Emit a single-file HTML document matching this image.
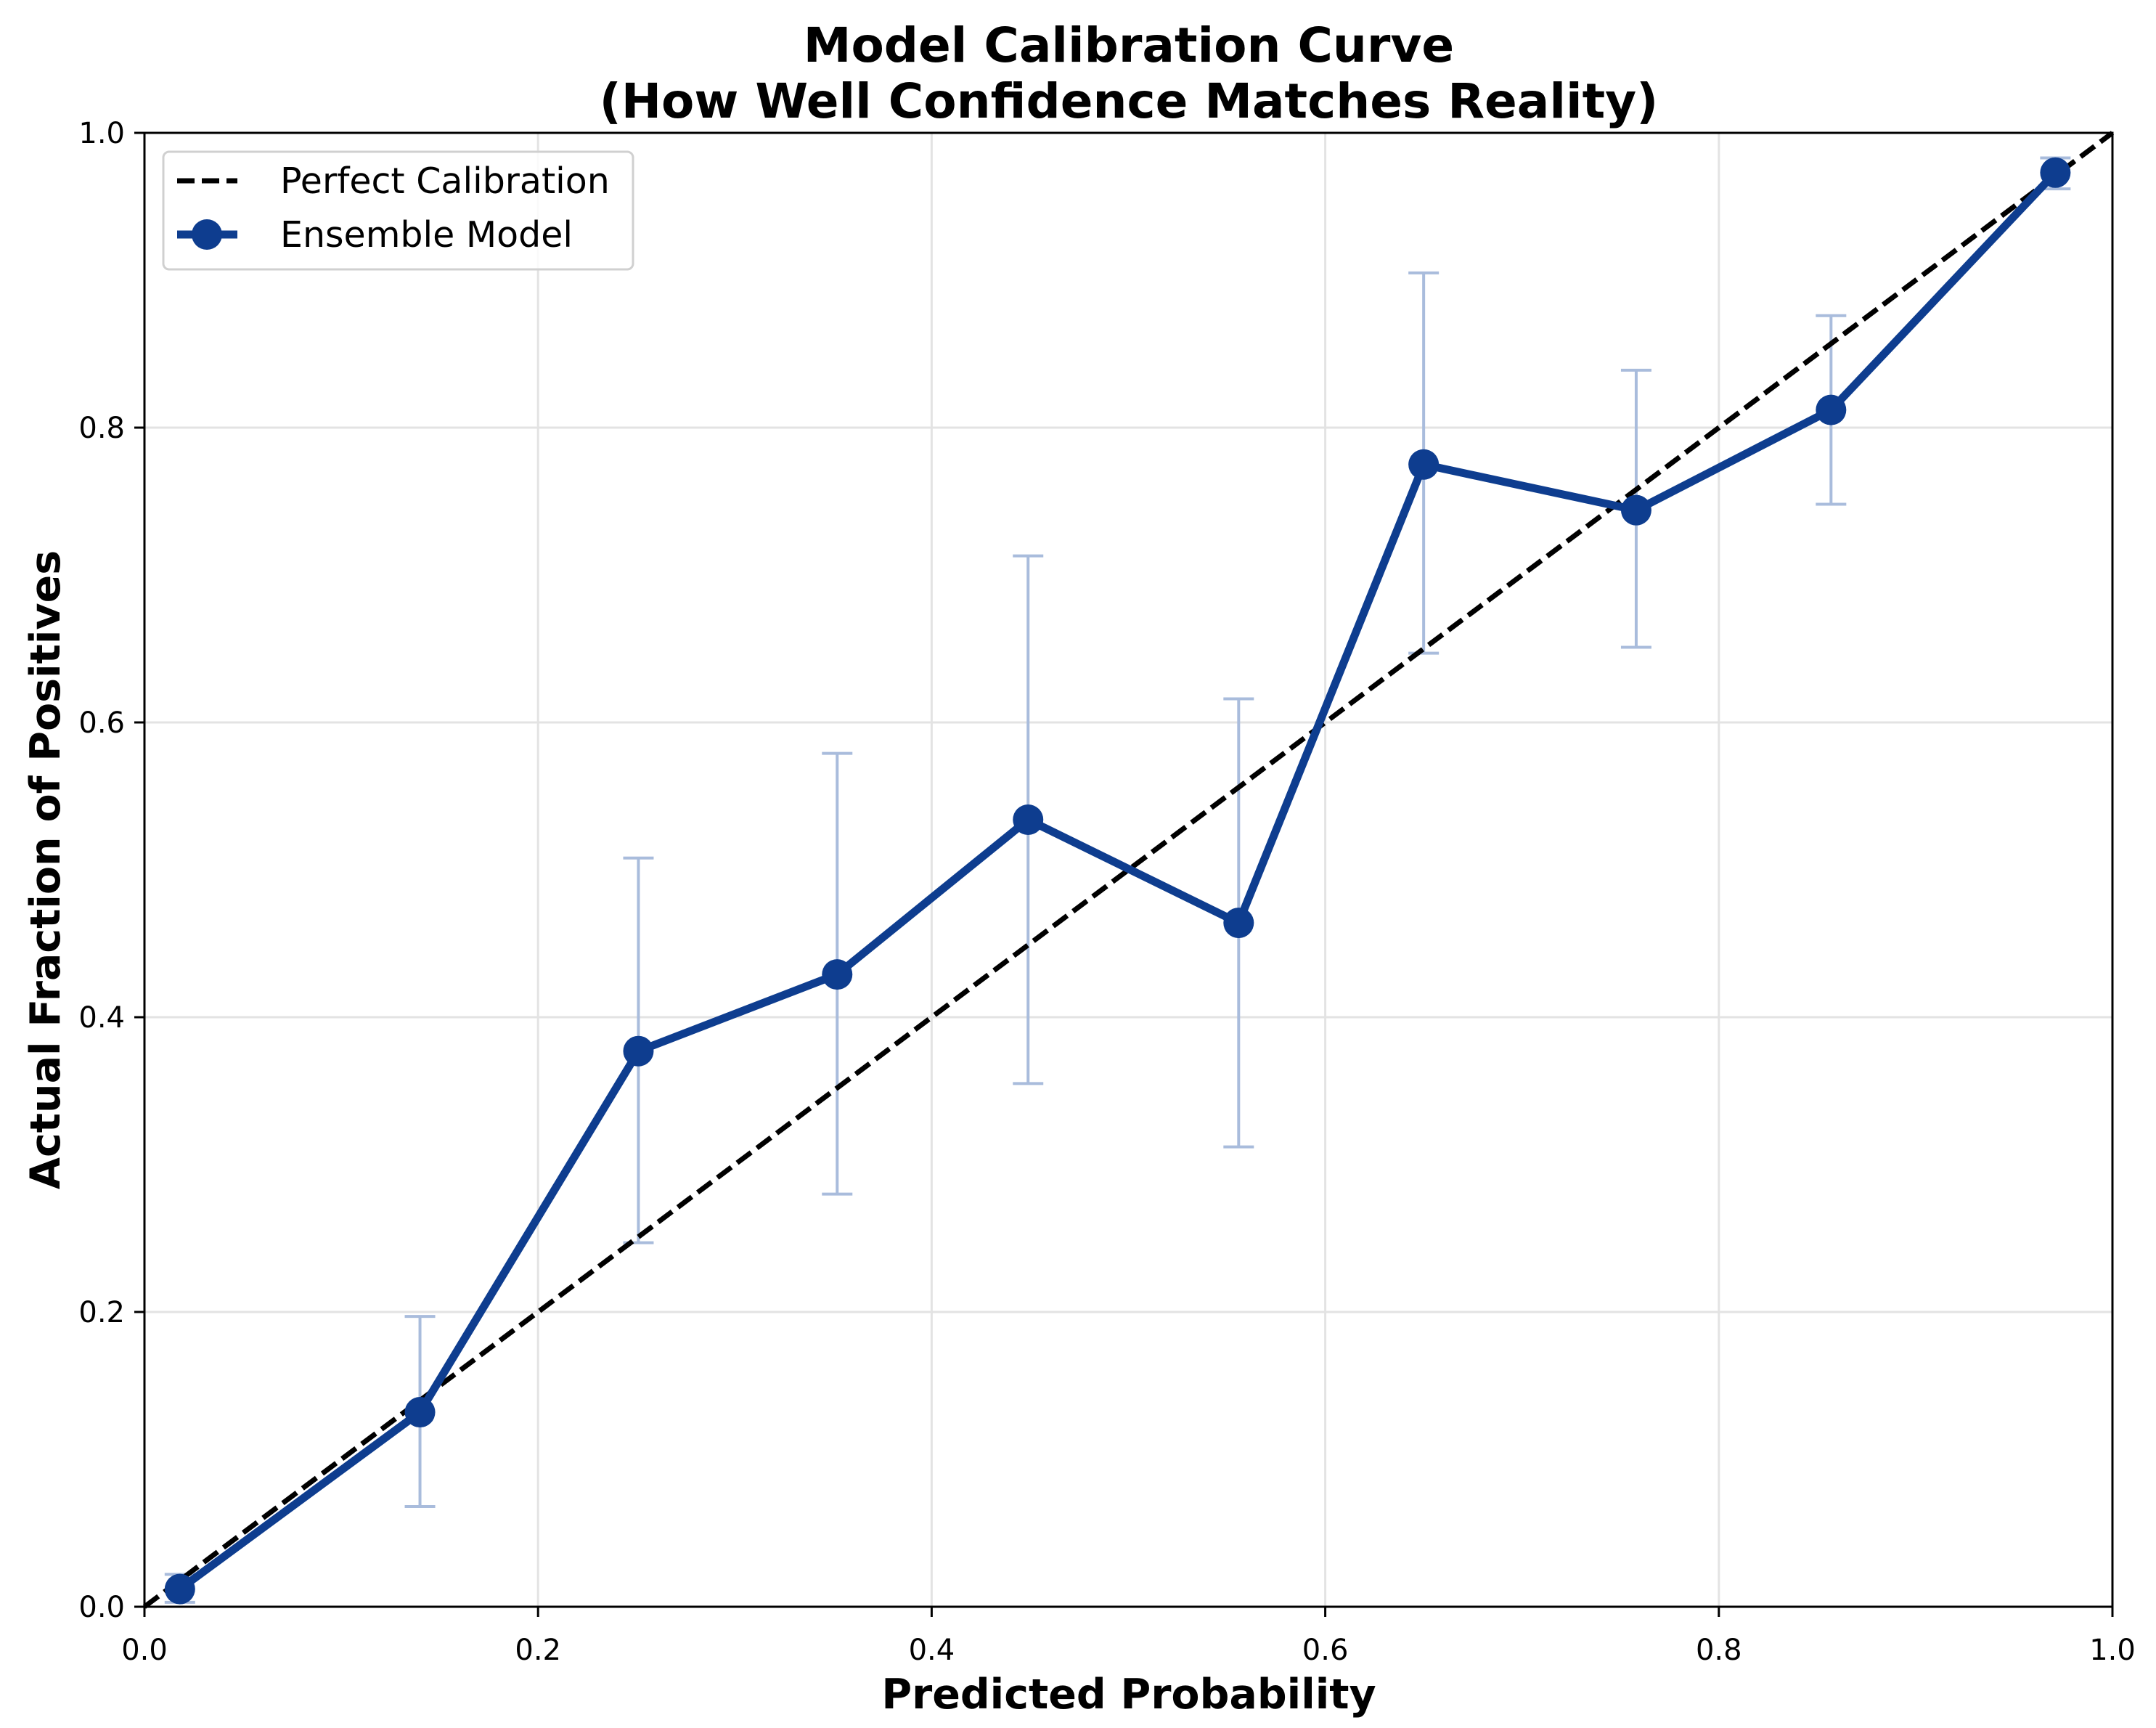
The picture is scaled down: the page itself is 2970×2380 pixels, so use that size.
<!DOCTYPE html>
<html><head><meta charset="utf-8"><style>
html,body{margin:0;padding:0;background:#fff}
svg{display:block}
text{font-family:"DejaVu Sans","Liberation Sans",sans-serif;fill:#000}
</style></head><body>
<svg id="chart" width="2970" height="2380" viewBox="0 0 2970 2380" xmlns="http://www.w3.org/2000/svg">
<rect width="2970" height="2380" fill="#fff"/>
<g id="grid"></g>
<g id="marks"></g>
<rect x="199" y="183" width="2711" height="2030" fill="none" stroke="#000" stroke-width="3"/>
<g id="ticks"></g>
<text x="1555" y="85" text-anchor="middle" font-size="66" font-weight="bold">Model Calibration Curve</text>
<text x="1555" y="162" text-anchor="middle" font-size="66" font-weight="bold">(How Well Confidence Matches Reality)</text>
<text x="1555" y="2353" text-anchor="middle" font-size="57" font-weight="bold">Predicted Probability</text>
<text transform="translate(82,1198) rotate(-90)" text-anchor="middle" font-size="57" font-weight="bold">Actual Fraction of Positives</text>
<g>
<rect x="225" y="209" width="647" height="162" rx="8" fill="#fff" fill-opacity="0.8" stroke="#d0d0d0" stroke-width="3"/>
<line x1="244" y1="249" x2="327" y2="249" stroke="#000" stroke-width="7" stroke-dasharray="24,10"/>
<text x="386" y="266" font-size="49">Perfect Calibration</text>
<line x1="244" y1="323" x2="327" y2="323" stroke="#0e3d8f" stroke-width="11"/>
<circle cx="285" cy="323" r="21" fill="#0e3d8f"/>
<text x="386" y="340" font-size="49">Ensemble Model</text>
</g>
</svg>
<script>
const predicted = [0.018, 0.140, 0.251, 0.352, 0.449, 0.556, 0.650, 0.758, 0.857, 0.971];
const actual = [0.012, 0.132, 0.377, 0.429, 0.534, 0.464, 0.775, 0.744, 0.812, 0.973];
const errLow = [0.003, 0.068, 0.247, 0.280, 0.355, 0.312, 0.647, 0.651, 0.748, 0.962];
const errHigh = [0.022, 0.197, 0.508, 0.579, 0.713, 0.616, 0.905, 0.839, 0.876, 0.983];
const tickValues = [0, 0.2, 0.4, 0.6, 0.8, 1.0];
const tickLabels = ["0.0", "0.2", "0.4", "0.6", "0.8", "1.0"];

const L=199,R=2910,T=183,B=2213;
const xs=v=>L+v*(R-L), ys=v=>B-v*(B-T);
const NS="http://www.w3.org/2000/svg";
function mk(tag,attrs,parent){const e=document.createElementNS(NS,tag);for(const k in attrs)e.setAttribute(k,attrs[k]);parent.appendChild(e);return e;}
const grid=document.getElementById('grid'),marks=document.getElementById('marks'),ticks=document.getElementById('ticks');
tickValues.forEach((v,i)=>{
  const gx=mk('line',{x1:xs(v),x2:xs(v),y1:T,y2:B,stroke:'#e3e3e3','stroke-width':3},grid);
  
  
  const gy=mk('line',{x1:L,x2:R,y1:ys(v),y2:ys(v),stroke:'#e3e3e3','stroke-width':3},grid);
  
  
  const tx=mk('line',{x1:xs(v),x2:xs(v),y1:B,y2:B+14,stroke:'#000','stroke-width':3},ticks);
  
  
  const lx=mk('text',{x:xs(v),y:B+73,'text-anchor':'middle','font-size':40},ticks);
  lx.textContent=tickLabels[i];
  
  
  const ty=mk('line',{x1:L-14,x2:L,y1:ys(v),y2:ys(v),stroke:'#000','stroke-width':3},ticks);
  
  
  const ly=mk('text',{x:L-27,y:ys(v)+14,'text-anchor':'end','font-size':40},ticks);
  ly.textContent=tickLabels[i];
  
  
});
predicted.forEach((p,i)=>{
  const c='#a9bcdc';
  const e=mk('line',{x1:xs(p),x2:xs(p),y1:ys(errLow[i]),y2:ys(errHigh[i]),stroke:c,'stroke-width':4},marks);
  
  
  [errLow[i],errHigh[i]].forEach(v=>{
    const cap=mk('line',{x1:xs(p)-21,x2:xs(p)+21,y1:ys(v),y2:ys(v),stroke:c,'stroke-width':4},marks);
    
    
  });
});
const diag=mk('line',{x1:xs(0),y1:ys(0),x2:xs(1),y2:ys(1),stroke:'#000','stroke-width':7,'stroke-dasharray':'24,10'},marks);


const pts=predicted.map((p,i)=>xs(p)+','+ys(actual[i])).join(' ');
const pl=mk('polyline',{points:pts,fill:'none',stroke:'#0e3d8f','stroke-width':11,'stroke-linejoin':'round'},marks);


predicted.forEach((p,i)=>{
  const c=mk('circle',{cx:xs(p),cy:ys(actual[i]),r:21,fill:'#0e3d8f'},marks);
  
  
});
</script>
</body></html>
